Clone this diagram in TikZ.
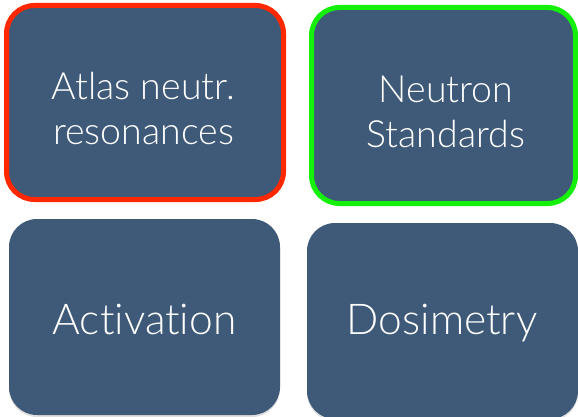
\documentclass[tikz,border=0pt]{standalone}
\usepackage{fontspec}
\setmainfont{Lato Light}[RawFeature={-liga;-dlig;-calt}]
\usetikzlibrary{shadows}
\definecolor{boxfill}{RGB}{63,90,120}
\definecolor{redline}{RGB}{255,40,0}
\definecolor{greenline}{RGB}{20,240,10}
\tikzset{
  card/.style={rectangle, rounded corners=28pt, fill=boxfill, inner sep=0pt,
    drop shadow={opacity=0.25, shadow xshift=0pt, shadow yshift=-2pt}},
  smalltext/.style={text=white, align=center, inner sep=0pt, font=\fontsize{37.5}{45}\selectfont},
  bigtext/.style={text=white, align=center, inner sep=0pt, font=\fontsize{42.5}{50}\selectfont}
}
\begin{document}
\begin{tikzpicture}[x=1pt,y=-1pt]
\useasboundingbox (0,0) rectangle (578,417);
\node[card, draw=redline, line width=5pt, minimum width=277pt, minimum height=194pt] (atlas) at (145,102.5) {};
\node[card, draw=greenline, line width=5pt, minimum width=264pt, minimum height=196pt] (std) at (443.5,105.5) {};
\node[card, minimum width=271pt, minimum height=196pt] (act) at (144.5,317) {};
\node[card, minimum width=271pt, minimum height=196pt] (dos) at (442.5,321) {};
\node[smalltext] (atlas-t) at (143.5,109) {Atlas neutr.\\resonances};
\node[smalltext] (std-t) at (446,112) {Neutron\\Standards};
\node[bigtext] (act-t) at (144.5,320) {Activation};
\node[bigtext] (dos-t) at (442,323) {Dosimetry};
\end{tikzpicture}
\end{document}
